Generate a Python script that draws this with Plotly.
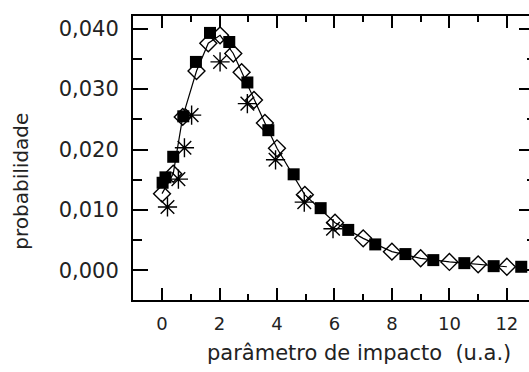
import plotly.graph_objects as go

# Probability distribution vs. impact parameter, three computed series
sq_x = [0.02, 0.12, 0.39, 0.74, 1.18, 1.67, 2.34, 2.97, 3.70, 4.58, 5.52, 6.48,
        7.42, 8.47, 9.44, 10.52, 11.54, 12.50]
sq_y = [0.0145, 0.0154, 0.0188, 0.0255, 0.0345, 0.0393, 0.0378, 0.0311, 0.0232,
        0.0159, 0.0103, 0.0067, 0.0043, 0.0027, 0.0017, 0.0012, 0.0007, 0.0006]

dia_x = [0.00, 0.39, 0.72, 1.20, 1.61, 2.02, 2.48, 2.77, 3.20, 3.58, 4.00, 4.97,
         6.02, 7.00, 8.00, 9.00, 10.00, 11.00, 12.00]
dia_y = [0.0127, 0.0160, 0.0254, 0.0330, 0.0376, 0.0389, 0.0359, 0.0328, 0.0282,
         0.0244, 0.0202, 0.0125, 0.0079, 0.0053, 0.0031, 0.0020, 0.0014, 0.0010,
         0.0006]

ast_x = [0.19, 0.57, 0.78, 1.03, 2.02, 2.97, 3.95, 4.95, 5.95]
ast_y = [0.0105, 0.0151, 0.0203, 0.0257, 0.0345, 0.0276, 0.0183, 0.0113, 0.0069]

x_ticks = [0, 2, 4, 6, 8, 10, 12]
x_ticktext = ["0", "2", "4", "6", "8", "10", "12"]
y_ticks = [0.0, 0.01, 0.02, 0.03, 0.04]
y_ticktext = ["0,000", "0,010", "0,020", "0,030", "0,040"]

x_title = "parâmetro de impacto  (u.a.)"
y_title = "probabilidade"

FONT = "DejaVu Sans"
X_RANGE = [-1.01, 12.77]
Y_RANGE = [-0.0049, 0.0421]

fig = go.Figure()

fig.add_trace(go.Scatter(
    x=sq_x, y=sq_y, mode="markers",
    marker=dict(symbol="square", size=12, color="black",
                line=dict(color="black", width=0)),
    showlegend=False))

# asterisk series is plotted against the right-hand (tick-only) axis,
# which shares the same range as the left axis
fig.add_trace(go.Scatter(
    x=ast_x, y=ast_y, mode="markers", yaxis="y2",
    marker=dict(symbol="asterisk-open", size=16, color="black",
                line=dict(color="black", width=1.4)),
    showlegend=False))

fig.add_trace(go.Scatter(
    x=dia_x, y=dia_y, mode="lines+markers",
    line=dict(color="black", width=1.2),
    marker=dict(symbol="diamond-open", size=13, color="black",
                line=dict(color="black", width=1.4)),
    showlegend=False))

fig.update_layout(
    width=529, height=372,
    margin=dict(l=133, r=0, t=16, b=72),
    paper_bgcolor="white", plot_bgcolor="white",
    font=dict(family=FONT, color="black"),
    xaxis=dict(
        range=X_RANGE, showgrid=False, zeroline=False,
        showline=True, linewidth=2, linecolor="black", mirror="ticks",
        ticks="inside", ticklen=12, tickwidth=2, tickcolor="black",
        tickvals=x_ticks, ticktext=x_ticktext,
        tickfont=dict(family=FONT, size=18, color="#222"),
        ticklabelstandoff=6,
        minor=dict(ticks="inside", ticklen=6, tickwidth=2, dtick=1,
                   tickcolor="black", showgrid=False),
    ),
    yaxis=dict(
        range=Y_RANGE, showgrid=False, zeroline=False,
        showline=True, linewidth=2, linecolor="black",
        ticks="inside", ticklen=15, tickwidth=2, tickcolor="black",
        tickvals=y_ticks, ticktext=y_ticktext,
        tickfont=dict(family=FONT, size=21, color="#222"),
        ticklabelstandoff=8,
        minor=dict(ticks="inside", ticklen=9, tickwidth=2, dtick=0.005,
                   tickcolor="black", showgrid=False),
    ),
    yaxis2=dict(
        range=Y_RANGE, overlaying="y", side="right", anchor="x",
        showgrid=False, zeroline=False, showline=False,
        ticks="inside", ticklen=10, tickwidth=2, tickcolor="black",
        tickvals=y_ticks, showticklabels=False,
        minor=dict(ticks="inside", ticklen=2, tickwidth=2, dtick=0.005,
                   tickcolor="black", showgrid=False),
    ),
    annotations=[
        dict(text=x_title, xref="paper", yref="paper", x=0.57, y=-0.185,
             xanchor="center", yanchor="middle", showarrow=False,
             font=dict(family=FONT, size=21, color="#222")),
        dict(text=y_title, xref="paper", yref="paper", x=-0.283, y=0.42,
             xanchor="center", yanchor="middle", showarrow=False, textangle=-90,
             font=dict(family=FONT, size=20, color="#222")),
    ],
)

fig.write_html("out.html")
